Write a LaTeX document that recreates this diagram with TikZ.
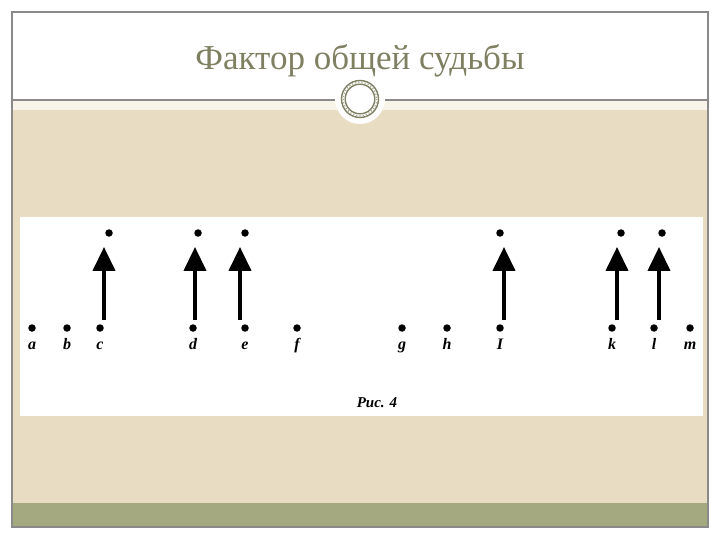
\documentclass[tikz,border=0pt]{standalone}
\usepackage{fontspec}
\setmainfont{Liberation Serif}
\usetikzlibrary{arrows.meta}

\definecolor{slidebeige}{HTML}{E8DCC3}
\definecolor{slidecream}{HTML}{F8F5E8}
\definecolor{slidegreen}{HTML}{A5A97F}
\definecolor{slideolive}{HTML}{7F8062}
\definecolor{slideframe}{HTML}{8A8A8A}

\begin{document}
\begin{tikzpicture}[x=1pt,y=-1pt,
					dot/.style={circle,fill=black,inner sep=0pt,minimum size=7.5pt},
					letter/.style={inner sep=0pt,anchor=base,font=\fontsize{16}{16}\selectfont\bfseries\itshape},
					fate/.style={line width=4pt,-{Triangle[width=22pt,length=24pt]}}]
	\useasboundingbox (0,0) rectangle (720,540);
	\fill[white] (0,0) rectangle (720,540);
	\fill[slidecream] (12,100) rectangle (708,110);
	\fill[slidebeige] (12,110) rectangle (708,503);
	\fill[slidegreen] (12,503) rectangle (708,527);
	\draw[slideframe,line width=1.2pt] (12,12) rectangle (708,527);
	\draw[slideframe,line width=1.2pt] (12,100) -- (708,100);
	\node[circle,fill=white,minimum size=50pt,inner sep=0pt] (ring) at (360,99) {};
	\draw[slideolive,line width=1.4pt] (ring.center) circle (18.5);
	\draw[slideolive,line width=1.4pt] (ring.center) circle (14.8);
	\draw[slideolive!70,line width=1.2pt,dotted] (ring.center) circle (16.7);
	\node[slideolive,anchor=base,font=\fontsize{35}{35}\selectfont] (title) at (360,70) {Фактор общей судьбы};
	\fill[white] (20,217) rectangle (703,416);
	\foreach \n/\x in {a/32,b/67,c/100,d/193,e/245,f/297,g/402,h/447,i/500,k/612,l/654,m/690}
		\node[dot] (\n) at (\x,328) {};
	\foreach \n/\l in {a/a,b/b,c/c,d/d,e/e,f/f,g/g,h/h,i/I,k/k,l/l,m/m}
		\node[letter] (\n-label) at ([yshift=-21pt]\n.center) {\l};
	\foreach \n/\x in {c/109,d/198,e/245,i/500,k/621,l/662}
		\node[dot] (\n-up) at (\x,233) {};
	\foreach \n/\o in {c/4,d/2,e/-5,i/4,k/5,l/5}
		\draw[fate] ([xshift=\o pt,yshift=4pt]\n.north) -- ([xshift=\o pt,yshift=-10pt]\n |- \n-up.south);
	\node[anchor=base,font=\fontsize{15}{15}\selectfont\bfseries\itshape] (caption) at (377,407) {Рис. 4};
\end{tikzpicture}
\end{document}
